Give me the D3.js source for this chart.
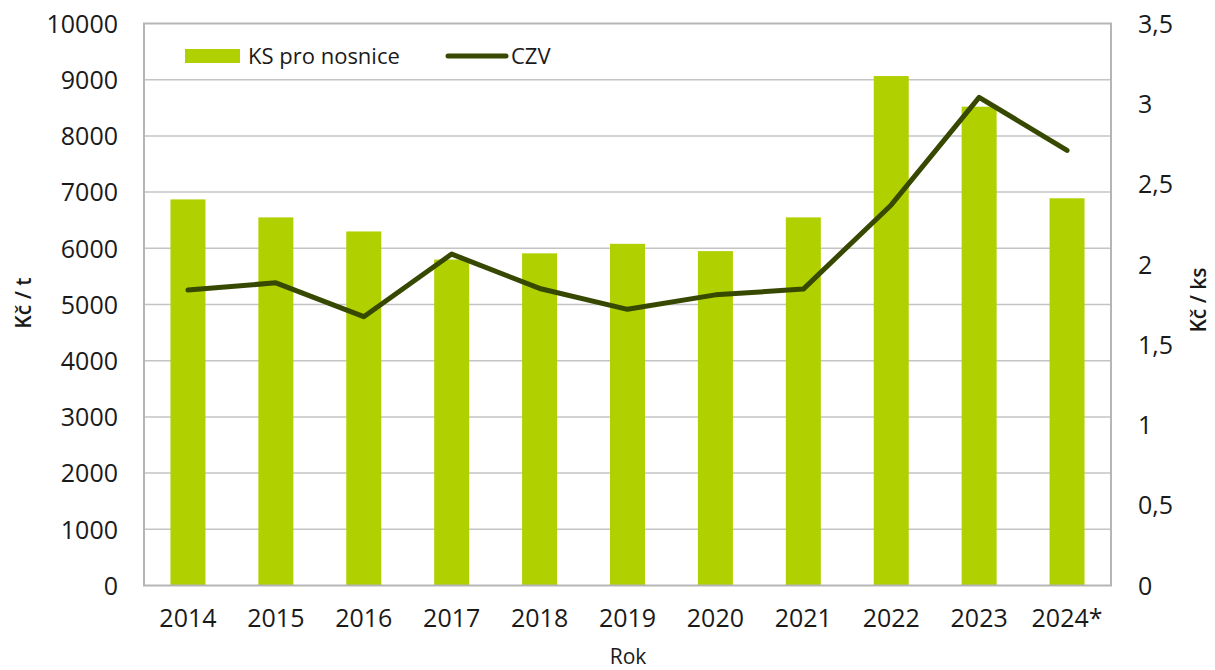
<!DOCTYPE html>
<html><head><meta charset="utf-8">
<script src="https://cdn.jsdelivr.net/npm/d3@7/dist/d3.min.js"></script>
<style>body{margin:0;background:#fff}svg text{font-family:"Open Sans",sans-serif;fill:#1a1a1a}</style>
</head><body><svg id="c" width="1215" height="670"></svg>
<script>
const years = ["2014","2015","2016","2017","2018","2019","2020","2021","2022","2023","2024*"];
const ksValues = [6870,6550,6300,5800,5910,6080,5950,6550,9065,8520,6890];
const czvValues = [1.84,1.885,1.674,2.064,1.85,1.72,1.81,1.846,2.37,3.04,2.71];
const leftTicks = [0,1000,2000,3000,4000,5000,6000,7000,8000,9000,10000];
const rightTicks = [0,0.5,1,1.5,2,2.5,3,3.5];
const seriesNames = ["KS pro nosnice","CZV"];

const svg = d3.select("#c");
const L=144,R=1111,T=23.5,B=585.5;
const xc = d3.scaleBand().domain(years).range([L,R]);
const y = d3.scaleLinear().domain([0,10000]).range([B,T]);
const y2 = d3.scaleLinear().domain([0,3.5]).range([B,T]);
const barColor="#b0d000", lineColor="#374800";

// gridlines
svg.append("g").selectAll("line").data(leftTicks.slice(1,-1)).join("line")
  .attr("x1",L).attr("x2",R).attr("y1",d=>y(d)).attr("y2",d=>y(d))
  .attr("stroke","#c4c4c4").attr("stroke-width",1.5);

// bars
svg.append("g").selectAll("rect").data(ksValues).join("rect")
  .attr("x",(d,i)=>xc(years[i])+xc.bandwidth()/2-17.5).attr("width",35)
  .attr("y",d=>y(d)).attr("height",d=>B-y(d)).attr("fill",barColor);

// border
svg.append("rect").attr("x",L).attr("y",T).attr("width",R-L).attr("height",B-T)
  .attr("fill","none").attr("stroke","#b5b5b5").attr("stroke-width",2);

// line
const line = d3.line().x((d,i)=>xc(years[i])+xc.bandwidth()/2).y(d=>y2(d));
svg.append("path").datum(czvValues).attr("d",line).attr("fill","none")
  .attr("stroke",lineColor).attr("stroke-width",5).attr("stroke-linejoin","round").attr("stroke-linecap","round");

const fmt = d=>String(d).replace(".",",");
// left axis
const ax = svg.append("g").attr("transform",`translate(${L},0)`).call(d3.axisLeft(y).tickValues(leftTicks).tickFormat(d=>String(d)).tickSize(0).tickPadding(26));
ax.select(".domain").remove();
ax.selectAll("text").style("font-size","25px").attr("dy","0.35em");
// right axis
const ar = svg.append("g").attr("transform",`translate(${R},0)`).call(d3.axisRight(y2).tickValues(rightTicks).tickFormat(fmt).tickSize(0).tickPadding(27));
ar.select(".domain").remove();
ar.selectAll("text").style("font-size","25px").attr("dy","0.35em");
// x axis
const axb = svg.append("g").attr("transform",`translate(0,${B})`).call(d3.axisBottom(xc).tickSize(0).tickPadding(24));
axb.select(".domain").remove();
axb.selectAll("text").style("font-size","25px");

// axis titles
svg.append("text").attr("transform","translate(31,303) rotate(-90)").attr("text-anchor","middle").style("font-size","21px").style("font-weight","600").text("Kč / t");
svg.append("text").attr("transform","translate(1206,300) rotate(-90)").attr("text-anchor","middle").style("font-size","21px").style("font-weight","600").text("Kč / ks");
svg.append("text").attr("x",628).attr("y",664).attr("text-anchor","middle").style("font-size","21px").text("Rok");

// legend
const lg = svg.append("g");
lg.append("rect").attr("x",185).attr("y",49).attr("width",55).attr("height",14).attr("fill",barColor);
lg.append("text").attr("x",248).attr("y",64).style("font-size","22px").text(seriesNames[0]);
lg.append("line").attr("x1",448).attr("x2",506).attr("y1",56).attr("y2",56).attr("stroke",lineColor).attr("stroke-width",5).attr("stroke-linecap","round");
lg.append("text").attr("x",511).attr("y",64).style("font-size","22px").text(seriesNames[1]);
</script></body></html>
